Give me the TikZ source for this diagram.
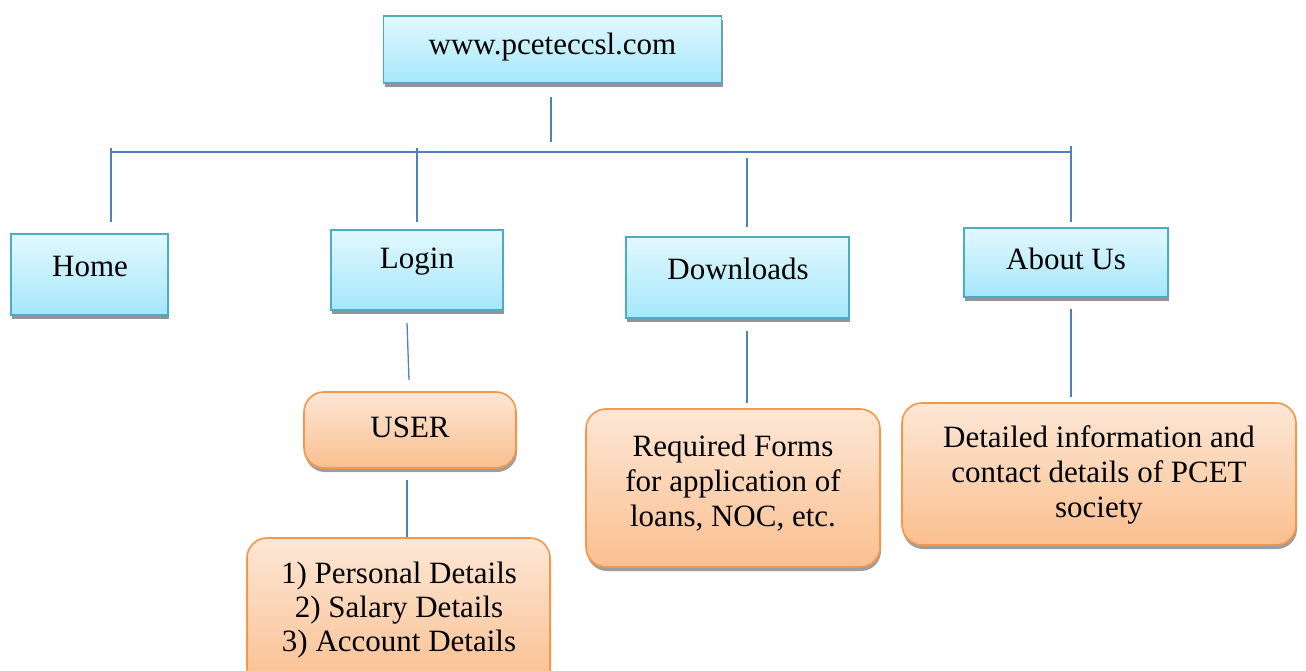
\documentclass[tikz,border=0pt]{standalone}
\usepackage{fontspec}
\setmainfont{Liberation Serif}
\usetikzlibrary{shadows}
\definecolor{bluetop}{HTML}{E2F8FE}
\definecolor{bluebot}{HTML}{A5E7FB}
\definecolor{blueedge}{HTML}{4BACC6}
\definecolor{orgtop}{HTML}{FDE7D6}
\definecolor{orgbot}{HTML}{FABF8F}
\definecolor{orgedge}{HTML}{F79646}
\definecolor{linkc}{HTML}{4F81BD}
\tikzset{
  bluebox/.style={draw=blueedge, line width=1.6pt, top color=bluetop, bottom color=bluebot,
    inner sep=0pt, align=center,
    drop shadow={shadow xshift=1pt, shadow yshift=-4pt, fill=black!42, opacity=1}},
  orgbox/.style={draw=orgedge, line width=1.6pt, top color=orgtop, bottom color=orgbot,
    rounded corners=20pt, inner sep=0pt, align=center,
    drop shadow={shadow xshift=1pt, shadow yshift=-4pt, fill=black!38, opacity=1}},
  lbl/.style={inner sep=0pt, align=center, font=\fontsize{31}{35}\selectfont},
  link/.style={draw=linkc, line width=1.3pt}
}
\begin{document}
\begin{tikzpicture}[x=1pt,y=-1pt]
\useasboundingbox (0,0) rectangle (1306,671);
% boxes
\node[bluebox, minimum width=338pt, minimum height=67pt] (web) at (552.5,49.5) {};
\node[lbl] (webt) at (552.5,47) {www.pceteccsl.com};
\node[bluebox, minimum width=157pt, minimum height=81pt] (home) at (89.5,274.5) {};
\node[lbl] (homet) at (90,267) {Home};
\node[bluebox, minimum width=172pt, minimum height=80pt] (login) at (417,270) {};
\node[lbl] (logint) at (417,262) {Login};
\node[bluebox, minimum width=223pt, minimum height=81pt] (down) at (737.5,277.5) {};
\node[lbl] (downt) at (738,269) {Downloads};
\node[bluebox, minimum width=204pt, minimum height=69pt] (about) at (1066,262.5) {};
\node[lbl] (aboutt) at (1066,259) {About Us};

\node[orgbox, minimum width=212pt, minimum height=76pt] (user) at (410,430) {};
\node[lbl] (usert) at (410,427) {USER};
\node[orgbox, minimum width=303pt, minimum height=150pt] (list) at (398.5,613) {};
\node[lbl, font=\fontsize{31}{34}\selectfont] (listt) at (399,610) {1) Personal Details\\2) Salary Details\\3) Account Details};
\node[orgbox, minimum width=294pt, minimum height=158pt] (forms) at (733,488) {};
\node[lbl] (formst) at (733,483) {Required Forms\\for application of\\loans, NOC, etc.};
\node[orgbox, minimum width=394pt, minimum height=142pt] (info) at (1099,474) {};
\node[lbl] (infot) at (1099,475) {Detailed information and\\contact details of PCET\\society};

% connector end points
\coordinate (c0a) at (551,97);
\coordinate (c0b) at (551,142);
\coordinate (hl) at (111,152);
\coordinate (hr) at (1071,152);
\coordinate (c1a) at (111,148);
\coordinate (c1b) at (111,222);
\coordinate (c2a) at (417,148);
\coordinate (c2b) at (417,222);
\coordinate (c3a) at (747,158);
\coordinate (c3b) at (747,227);
\coordinate (c4a) at (1071,146);
\coordinate (c4b) at (1071,222);
\coordinate (c5a) at (407,323);
\coordinate (c5b) at (409,380);
\coordinate (c6a) at (407,480);
\coordinate (c6b) at (407,537);
\coordinate (c7a) at (747,331);
\coordinate (c7b) at (747,403);
\coordinate (c8a) at (1071,309);
\coordinate (c8b) at (1071,397);

\draw[link] (c0a) -- (c0b);
\draw[link] (hl) -- (hr);
\draw[link] (c1a) -- (c1b);
\draw[link] (c2a) -- (c2b);
\draw[link] (c3a) -- (c3b);
\draw[link] (c4a) -- (c4b);
\draw[link] (c5a) -- (c5b);
\draw[link] (c6a) -- (c6b);
\draw[link] (c7a) -- (c7b);
\draw[link] (c8a) -- (c8b);
\end{tikzpicture}
\end{document}
